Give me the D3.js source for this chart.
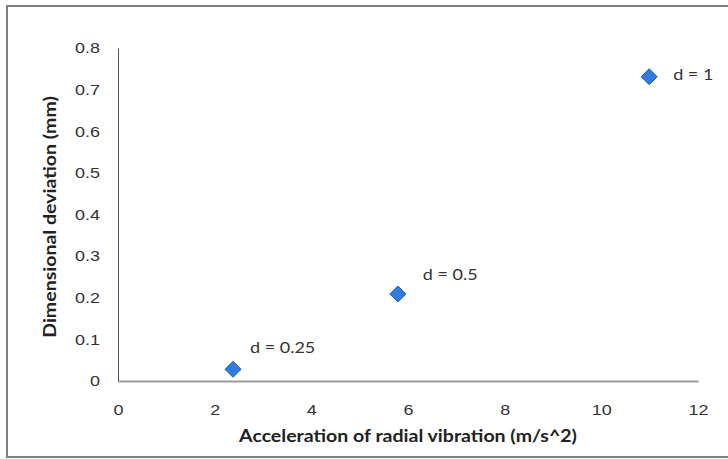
<!DOCTYPE html>
<html><head><meta charset="utf-8">
<script src="https://cdn.jsdelivr.net/npm/d3@7/dist/d3.min.js"></script>
<style>body{margin:0;background:#fff;} svg{display:block;font-family:Lato,"Open Sans",sans-serif;}</style>
</head><body><svg id="c" width="728" height="459"></svg>
<script>
const labels = ["d = 0.25", "d = 0.5", "d = 1"];
const xValues = [2.38, 5.79, 10.99];
const yValues = [0.028, 0.209, 0.731];
const xTicks = [0, 2, 4, 6, 8, 10, 12];
const yTicks = [0, 0.1, 0.2, 0.3, 0.4, 0.5, 0.6, 0.7, 0.8];

const SX = 1.2;
const svg = d3.select("#c");
svg.append("rect").attr("x", 7).attr("y", 6).attr("width", 740).attr("height", 451)
  .attr("fill", "#fff").attr("stroke", "#7f7f7f").attr("stroke-width", 2);

const x = d3.scaleLinear().domain([0, 12]).range([118, 698]);
const y = d3.scaleLinear().domain([0, 0.8]).range([381, 48]);

const xAxis = svg.append("g").attr("transform", "translate(0,381)")
  .call(d3.axisBottom(x).tickValues(xTicks).tickSize(0).tickPadding(0).tickFormat(d3.format("d")));
xAxis.select(".domain").attr("stroke", "#9a9a9a").attr("stroke-width", 2);
xAxis.selectAll(".tick text").attr("dy", null).attr("y", 0)
  .attr("transform", `translate(0,34) scale(${SX},1)`)
  .attr("font-size", 15).attr("fill", "#333");

const yAxis = svg.append("g").attr("transform", "translate(118,0)")
  .call(d3.axisLeft(y).tickValues(yTicks).tickSize(0).tickPadding(0).tickFormat(d => d === 0 ? "0" : d3.format(".1f")(d)));
yAxis.select(".domain").attr("stroke", "#555").attr("stroke-width", 1);
yAxis.selectAll(".tick text").attr("x", 0)
  .attr("transform", `translate(-18,0) scale(${SX},1)`)
  .attr("font-size", 15).attr("fill", "#333");

const pts = labels.map((l, i) => ({l, x: xValues[i], y: yValues[i]}));
svg.append("g").selectAll("path").data(pts).join("path")
  .attr("transform", d => `translate(${x(d.x)},${y(d.y)})`)
  .attr("d", "M0,-8L8,0L0,8L-8,0Z")
  .attr("fill", "#2f7be0").attr("stroke", "#1c5cb0").attr("stroke-width", 1);

const offs = [[17, -16], [25, -14], [24, 3]];
svg.append("g").selectAll("text").data(pts).join("text")
  .attr("transform", (d, i) => `translate(${x(d.x) + offs[i][0]},${y(d.y) + offs[i][1]}) scale(${SX},1)`)
  .attr("font-size", 15).attr("fill", "#333").text(d => d.l);

svg.append("text").attr("transform", `translate(408,442) scale(1.15,1)`).attr("text-anchor", "middle")
  .attr("font-size", 17).attr("font-weight", "bold").attr("fill", "#222")
  .text("Acceleration of radial vibration (m/s^2)");
svg.append("text").attr("transform", "translate(56,217) rotate(-90) scale(1.15,1)").attr("text-anchor", "middle")
  .attr("font-size", 17).attr("font-weight", "bold").attr("fill", "#222")
  .text("Dimensional deviation (mm)");
</script></body></html>
